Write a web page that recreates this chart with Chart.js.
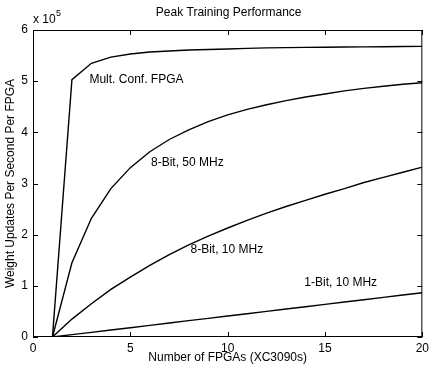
<!DOCTYPE html>
<html>
<head>
<meta charset="utf-8">
<script src="https://cdn.jsdelivr.net/npm/chart.js@4/dist/chart.umd.min.js"></script>
<style>
  html, body { margin: 0; padding: 0; background: #fff; }
  #wrap { width: 433px; height: 368px; }
</style>
</head>
<body>
<div id="wrap"><canvas id="chart" width="433" height="368"></canvas></div>
<script>
// Peak training performance vs number of FPGAs
// values are in units of 1e5 weight updates / s / FPGA

const fpgaCounts = [1, 2, 3, 4, 5, 6, 7, 8, 9, 10, 11, 12, 13, 14, 15, 16, 17, 18, 19, 20];

const multConf = [0, 5.03, 5.35, 5.47, 5.53, 5.57, 5.59, 5.61, 5.62, 5.63,
  5.64, 5.65, 5.655, 5.66, 5.664, 5.668, 5.671, 5.674, 5.677, 5.68];

const bit8mhz50 = [0, 1.45, 2.32, 2.9, 3.31, 3.62, 3.86, 4.05, 4.21, 4.34,
  4.45, 4.54, 4.62, 4.69, 4.75, 4.81, 4.86, 4.9, 4.94, 4.97];

const bit8mhz10 = [0, 0.35, 0.65, 0.93, 1.17, 1.4, 1.61, 1.8, 1.97, 2.13,
  2.28, 2.42, 2.55, 2.67, 2.79, 2.9, 3.02, 3.12, 3.22, 3.32];

const bit1mhz10 = [0, 0.046, 0.091, 0.137, 0.182, 0.228, 0.273, 0.319, 0.364, 0.41,
  0.455, 0.5, 0.546, 0.592, 0.637, 0.683, 0.728, 0.774, 0.82, 0.865];

const xTicks = [0, 5, 10, 15, 20];
const yTicks = [0, 1, 2, 3, 4, 5, 6];

// curve labels: [text, x, y] in data coords (left edge, middle)
const curveLabels = [
  ['Mult. Conf. FPGA', 2.9, 5.02],
  ['8-Bit, 50 MHz', 6.06, 3.4],
  ['8-Bit, 10 MHz', 8.09, 1.7],
  ['1-Bit, 10 MHz', 13.94, 1.07]
];

const FONT = '12px "Liberation Sans", Arial, sans-serif';

function toPoints(ys) {
  return ys.map((y, i) => ({ x: fpgaCounts[i], y: y }));
}

function lineSet(ys) {
  return {
    data: toPoints(ys),
    borderColor: '#000',
    borderWidth: 1.4,
    pointRadius: 0,
    tension: 0,
    fill: false
  };
}

// Draw box, inside ticks and all text annotations
const decorPlugin = {
  id: 'decor',
  afterDraw(chart) {
    const ctx = chart.ctx;
    const a = chart.chartArea;
    const xs = chart.scales.x;
    const ys = chart.scales.y;
    const tl = 5;

    ctx.save();
    ctx.strokeStyle = '#000';
    ctx.lineWidth = 1;
    ctx.strokeRect(a.left + 0.5, a.top + 0.5, a.right - a.left - 1, a.bottom - a.top - 1);

    ctx.beginPath();
    xTicks.forEach(v => {
      const px = Math.round(xs.getPixelForValue(v)) + 0.5;
      ctx.moveTo(px, a.bottom); ctx.lineTo(px, a.bottom - tl);
      ctx.moveTo(px, a.top); ctx.lineTo(px, a.top + tl);
    });
    yTicks.forEach(v => {
      const py = Math.round(ys.getPixelForValue(v)) + 0.5;
      ctx.moveTo(a.left, py); ctx.lineTo(a.left + tl, py);
      ctx.moveTo(a.right, py); ctx.lineTo(a.right - tl, py);
    });
    ctx.stroke();

    ctx.fillStyle = '#000';
    ctx.font = FONT;

    // title
    ctx.textAlign = 'center';
    ctx.textBaseline = 'middle';
    ctx.fillText('Peak Training Performance', (a.left + a.right) / 2 + 1, 13);

    // x axis title
    ctx.fillText('Number of FPGAs (XC3090s)', (a.left + a.right) / 2, 358);

    // y axis title
    ctx.save();
    ctx.translate(11, (a.top + a.bottom) / 2);
    ctx.rotate(-Math.PI / 2);
    ctx.fillText('Weight Updates Per Second Per FPGA', 0, 0);
    ctx.restore();

    // exponent
    ctx.textAlign = 'left';
    ctx.fillText('x 10', a.left, 20);
    ctx.font = '9px "Liberation Sans", Arial, sans-serif';
    ctx.fillText('5', a.left + 23, 14);

    // curve labels
    ctx.font = FONT;
    curveLabels.forEach(([text, x, y]) => {
      ctx.fillText(text, xs.getPixelForValue(x), ys.getPixelForValue(y));
    });
    ctx.restore();
  }
};

new Chart(document.getElementById('chart'), {
  type: 'line',
  data: {
    datasets: [
      lineSet(multConf),
      lineSet(bit8mhz50),
      lineSet(bit8mhz10),
      lineSet(bit1mhz10)
    ]
  },
  options: {
    responsive: false,
    animation: false,
    devicePixelRatio: 1,
    layout: { padding: { top: 30, right: 7, left: 0, bottom: 0 } },
    plugins: {
      legend: { display: false },
      title: { display: false },
      tooltip: { enabled: false }
    },
    scales: {
      x: {
        type: 'linear',
        min: 0,
        max: 20,
        afterBuildTicks: (s) => { s.ticks = xTicks.map(v => ({ value: v })); },
        afterFit: (s) => { s.height = 31; },
        grid: { display: false, drawTicks: false },
        border: { display: false },
        ticks: { color: '#000', font: { family: '"Liberation Sans", Arial, sans-serif', size: 12 }, padding: 4, maxRotation: 0 }
      },
      y: {
        type: 'linear',
        min: 0,
        max: 6,
        afterBuildTicks: (s) => { s.ticks = yTicks.map(v => ({ value: v })); },
        afterFit: (s) => { s.width = 33; },
        grid: { display: false, drawTicks: false },
        border: { display: false },
        ticks: { color: '#000', font: { family: '"Liberation Sans", Arial, sans-serif', size: 12 }, padding: 5 }
      }
    }
  },
  plugins: [decorPlugin]
});
</script>
</body>
</html>
